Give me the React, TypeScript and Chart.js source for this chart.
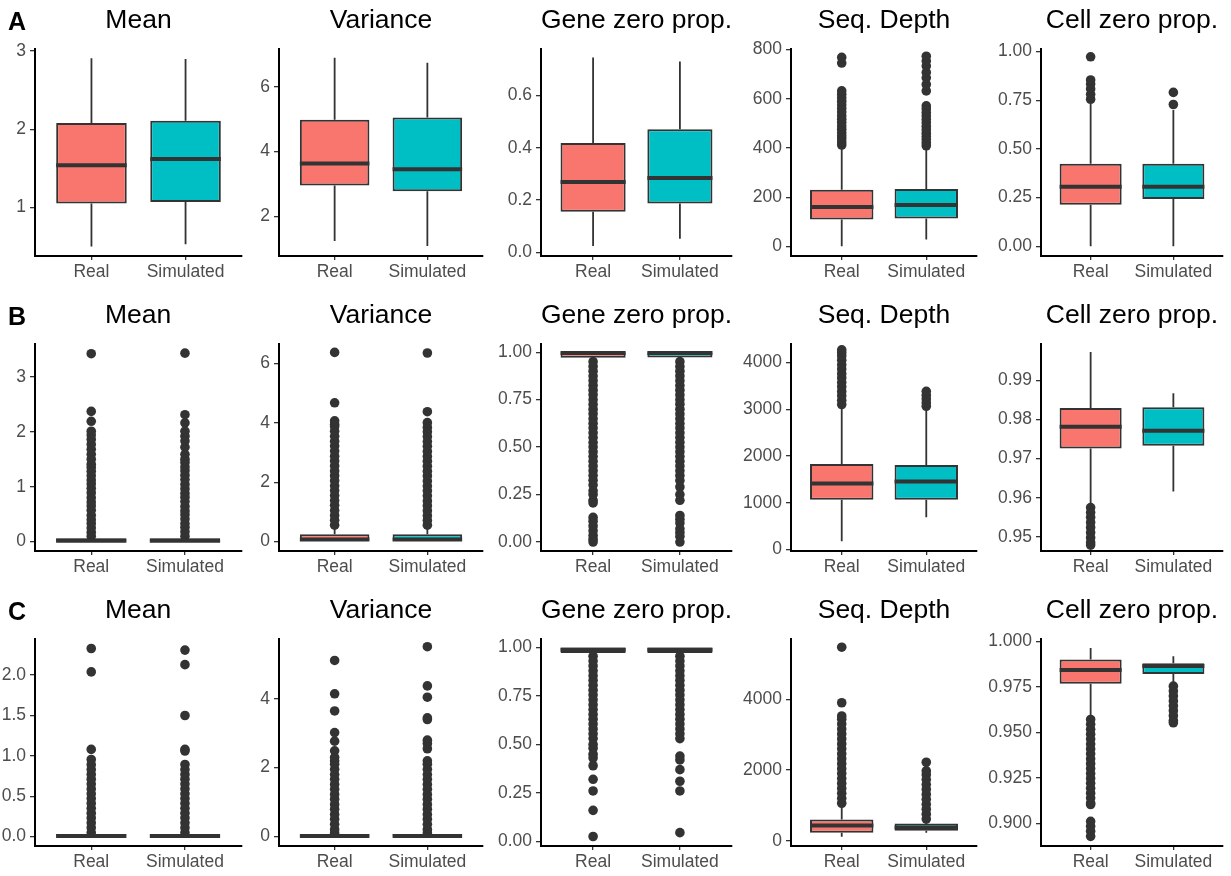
import React, { useEffect, useRef } from 'react';
import { Chart, registerables } from 'chart.js';

Chart.register(...registerables);

// ---------- data ----------
const CATEGORIES = ['Real', 'Simulated'];
const ROW_LETTERS = ['A', 'B', 'C'];
const PANEL_TITLES = ['Mean', 'Variance', 'Gene zero prop.', 'Seq. Depth', 'Cell zero prop.'];

// box summaries per category: [lower whisker, Q1, median, Q3, upper whisker]
const A_MEAN_BOX = [[0.50, 1.05, 1.54, 2.08, 2.91], [0.53, 1.07, 1.62, 2.11, 2.90]];
const A_VAR_BOX = [[1.23, 2.95, 3.63, 4.98, 6.89], [1.08, 2.77, 3.45, 5.05, 6.74]];
const A_GENE_BOX = [[0.024, 0.155, 0.269, 0.418, 0.746], [0.052, 0.187, 0.285, 0.471, 0.730]];
const A_DEPTH_BOX = [[1, 109, 160, 230, 400], [28, 113, 168, 233, 396]];
const A_CELL_BOX = [[0, 0.213, 0.305, 0.424, 0.731], [0, 0.243, 0.305, 0.424, 0.70]];
const B_MEAN_BOX = [[0, 0, 0.015, 0.06, 0.09], [0, 0, 0.015, 0.06, 0.09]];
const B_VAR_BOX = [[0, 0, 0.07, 0.245, 0.50], [0, 0, 0.07, 0.245, 0.50]];
const B_GENE_BOX = [[0.955, 0.971, 0.995, 0.999, 1.0], [0.955, 0.972, 0.995, 0.999, 1.0]];
const B_DEPTH_BOX = [[177, 1064, 1411, 1830, 3064], [688, 1064, 1454, 1809, 3028]];
const B_CELL_BOX = [[0.9585, 0.9726, 0.9781, 0.9829, 0.9972], [0.9616, 0.9733, 0.9771, 0.9831, 0.9867]];
const C_MEAN_BOX = [[0, 0, 0.008, 0.03, 0.045], [0, 0, 0.008, 0.03, 0.045]];
const C_VAR_BOX = [[0, 0, 0.01, 0.07, 0.09], [0, 0, 0.01, 0.07, 0.09]];
const C_GENE_BOX = [[0.962, 0.972, 0.988, 1.0, 1.0], [0.962, 0.972, 0.988, 1.0, 1.0]];
const C_DEPTH_BOX = [[113, 226, 433, 602, 1054], [226, 282, 376, 489, 565]];
const C_CELL_BOX = [[0.959, 0.97675, 0.98439, 0.99007, 0.9964], [0.97642, 0.98222, 0.9865, 0.98805, 0.99187]];

// outliers per category: [Real, Simulated]
const A_MEAN_OUT = [[], []];
const A_VAR_OUT = [[], []];
const A_GENE_OUT = [[], []];
const A_DEPTH_OUT = [
  [412, 424, 437, 449, 462, 476, 489, 503, 517, 531, 546, 560, 575, 590, 604, 618, 632, 745, 768],
  [409, 421, 434, 447, 460, 474, 488, 502, 516, 530, 544, 558, 571, 632, 658, 685, 707, 733, 753, 773],
];
const A_CELL_OUT = [[0.755, 0.78, 0.808, 0.833, 0.854, 0.973], [0.728, 0.79]];

const B_MEAN_OUT = [
  [0.10, 0.17, 0.25, 0.33, 0.40, 0.48, 0.57, 0.65, 0.72, 0.80, 0.89, 0.97, 1.05, 1.12, 1.20, 1.28, 1.35, 1.41, 1.50, 1.59, 1.68, 1.77, 1.86, 1.94, 2.01, 2.19, 2.37, 3.42],
  [0.10, 0.18, 0.26, 0.33, 0.41, 0.49, 0.56, 0.64, 0.73, 0.81, 0.88, 0.96, 1.04, 1.13, 1.21, 1.29, 1.36, 1.44, 1.50, 1.59, 1.72, 1.83, 1.92, 2.01, 2.16, 2.31, 3.43],
];
const B_VAR_OUT = [
  [0.55, 0.72, 0.88, 1.05, 1.22, 1.38, 1.55, 1.72, 1.88, 2.05, 2.22, 2.38, 2.55, 2.72, 2.88, 3.05, 3.22, 3.38, 3.55, 3.72, 3.88, 3.96, 4.07, 4.68, 6.38],
  [0.55, 0.71, 0.87, 1.04, 1.21, 1.37, 1.54, 1.71, 1.87, 2.04, 2.21, 2.37, 2.54, 2.71, 2.87, 3.04, 3.21, 3.37, 3.54, 3.70, 3.85, 4.01, 4.38, 6.36],
];
const B_GENE_OUT = [
  [0.95, 0.925, 0.90, 0.874, 0.85, 0.825, 0.80, 0.776, 0.75, 0.725, 0.70, 0.676, 0.65, 0.625, 0.60, 0.575, 0.55, 0.524, 0.50, 0.475, 0.45, 0.425, 0.40, 0.376, 0.35, 0.325, 0.30, 0.27, 0.25, 0.22, 0.206, 0.13, 0.11, 0.085, 0.06, 0.035, 0.015, 0.0],
  [0.95, 0.924, 0.90, 0.875, 0.85, 0.824, 0.80, 0.775, 0.75, 0.726, 0.70, 0.675, 0.65, 0.624, 0.60, 0.575, 0.55, 0.525, 0.50, 0.476, 0.45, 0.425, 0.40, 0.375, 0.35, 0.324, 0.29, 0.25, 0.22, 0.14, 0.12, 0.10, 0.07, 0.05, 0.03, 0.0],
];
const B_DEPTH_OUT = [
  [3100, 3190, 3290, 3380, 3480, 3570, 3670, 3760, 3860, 3950, 4050, 4140, 4210, 4270],
  [3064, 3140, 3220, 3300, 3383],
];
const B_CELL_OUT = [[0.9575, 0.9562, 0.955, 0.9537, 0.9524, 0.9511, 0.9498, 0.9486, 0.9479], []];

const C_MEAN_OUT = [
  [0.05, 0.11, 0.17, 0.23, 0.29, 0.35, 0.41, 0.47, 0.53, 0.59, 0.65, 0.71, 0.77, 0.83, 0.89, 0.955, 1.08, 2.04, 2.33],
  [0.05, 0.11, 0.17, 0.23, 0.29, 0.35, 0.41, 0.47, 0.53, 0.59, 0.65, 0.71, 0.77, 0.83, 0.893, 1.06, 1.08, 1.50, 2.13, 2.31],
];
const C_VAR_OUT = [
  [0.10, 0.20, 0.35, 0.50, 0.64, 0.79, 0.93, 1.08, 1.22, 1.37, 1.51, 1.66, 1.80, 1.95, 2.10, 2.20, 2.30, 2.49, 2.77, 3.02, 3.65, 4.15, 5.12],
  [0.10, 0.20, 0.35, 0.50, 0.64, 0.79, 0.93, 1.08, 1.22, 1.37, 1.51, 1.66, 1.80, 1.95, 2.10, 2.20, 2.55, 2.70, 2.80, 3.40, 3.45, 4.05, 4.38, 5.52],
];
const C_GENE_OUT = [
  [0.955, 0.93, 0.905, 0.88, 0.855, 0.83, 0.805, 0.78, 0.755, 0.73, 0.705, 0.68, 0.655, 0.63, 0.605, 0.58, 0.555, 0.53, 0.50, 0.48, 0.45, 0.43, 0.39, 0.32, 0.26, 0.16, 0.025],
  [0.955, 0.93, 0.905, 0.88, 0.855, 0.83, 0.805, 0.78, 0.755, 0.73, 0.705, 0.68, 0.655, 0.63, 0.605, 0.58, 0.555, 0.53, 0.44, 0.42, 0.37, 0.31, 0.26, 0.045],
];
const C_DEPTH_OUT = [
  [1060, 1200, 1340, 1480, 1620, 1760, 1900, 2040, 2180, 2320, 2460, 2600, 2740, 2880, 3020, 3160, 3300, 3440, 3530, 3905, 5477],
  [612, 750, 890, 1030, 1170, 1310, 1450, 1590, 1730, 1870, 1976, 2221],
];
const C_CELL_OUT = [
  [0.9572, 0.9545, 0.9518, 0.9491, 0.9464, 0.9437, 0.941, 0.9383, 0.9356, 0.9329, 0.9302, 0.9275, 0.9248, 0.9221, 0.9194, 0.9167, 0.914, 0.9113, 0.9105, 0.9012, 0.8985, 0.8958, 0.893],
  [0.9755, 0.9728, 0.9701, 0.9674, 0.9647, 0.962, 0.9593, 0.9566, 0.9554],
];

// y-axis tick labels
const A_MEAN_TICKS = ['1', '2', '3'];
const A_VAR_TICKS = ['2', '4', '6'];
const A_GENE_TICKS = ['0.0', '0.2', '0.4', '0.6'];
const A_DEPTH_TICKS = ['0', '200', '400', '600', '800'];
const A_CELL_TICKS = ['0.00', '0.25', '0.50', '0.75', '1.00'];
const B_MEAN_TICKS = ['0', '1', '2', '3'];
const B_VAR_TICKS = ['0', '2', '4', '6'];
const B_GENE_TICKS = ['0.00', '0.25', '0.50', '0.75', '1.00'];
const B_DEPTH_TICKS = ['0', '1000', '2000', '3000', '4000'];
const B_CELL_TICKS = ['0.95', '0.96', '0.97', '0.98', '0.99'];
const C_MEAN_TICKS = ['0.0', '0.5', '1.0', '1.5', '2.0'];
const C_VAR_TICKS = ['0', '2', '4'];
const C_GENE_TICKS = ['0.00', '0.25', '0.50', '0.75', '1.00'];
const C_DEPTH_TICKS = ['0', '2000', '4000'];
const C_CELL_TICKS = ['0.900', '0.925', '0.950', '0.975', '1.000'];

// y-axis limits [min, max]
const A_MEAN_Y = [0.38, 3.03];
const A_VAR_Y = [0.77, 7.17];
const A_GENE_Y = [-0.014, 0.779];
const A_DEPTH_Y = [-39, 803];
const A_CELL_Y = [-0.05, 1.014];
const B_MEAN_Y = [-0.17, 3.6];
const B_VAR_Y = [-0.32, 6.67];
const B_GENE_Y = [-0.047, 1.044];
const B_DEPTH_Y = [-33, 4400];
const B_CELL_Y = [0.9464, 0.9993];
const C_MEAN_Y = [-0.117, 2.45];
const C_VAR_Y = [-0.28, 5.75];
const C_GENE_Y = [-0.024, 1.045];
const C_DEPTH_Y = [-150, 5715];
const C_CELL_Y = [0.8877, 1.0015];

const PANELS = [
  [
    { box: A_MEAN_BOX, out: A_MEAN_OUT, ticks: A_MEAN_TICKS, y: A_MEAN_Y },
    { box: A_VAR_BOX, out: A_VAR_OUT, ticks: A_VAR_TICKS, y: A_VAR_Y },
    { box: A_GENE_BOX, out: A_GENE_OUT, ticks: A_GENE_TICKS, y: A_GENE_Y },
    { box: A_DEPTH_BOX, out: A_DEPTH_OUT, ticks: A_DEPTH_TICKS, y: A_DEPTH_Y },
    { box: A_CELL_BOX, out: A_CELL_OUT, ticks: A_CELL_TICKS, y: A_CELL_Y },
  ],
  [
    { box: B_MEAN_BOX, out: B_MEAN_OUT, ticks: B_MEAN_TICKS, y: B_MEAN_Y },
    { box: B_VAR_BOX, out: B_VAR_OUT, ticks: B_VAR_TICKS, y: B_VAR_Y },
    { box: B_GENE_BOX, out: B_GENE_OUT, ticks: B_GENE_TICKS, y: B_GENE_Y },
    { box: B_DEPTH_BOX, out: B_DEPTH_OUT, ticks: B_DEPTH_TICKS, y: B_DEPTH_Y },
    { box: B_CELL_BOX, out: B_CELL_OUT, ticks: B_CELL_TICKS, y: B_CELL_Y },
  ],
  [
    { box: C_MEAN_BOX, out: C_MEAN_OUT, ticks: C_MEAN_TICKS, y: C_MEAN_Y },
    { box: C_VAR_BOX, out: C_VAR_OUT, ticks: C_VAR_TICKS, y: C_VAR_Y },
    { box: C_GENE_BOX, out: C_GENE_OUT, ticks: C_GENE_TICKS, y: C_GENE_Y },
    { box: C_DEPTH_BOX, out: C_DEPTH_OUT, ticks: C_DEPTH_TICKS, y: C_DEPTH_Y },
    { box: C_CELL_BOX, out: C_CELL_OUT, ticks: C_CELL_TICKS, y: C_CELL_Y },
  ],
];

// ---------- layout / style ----------
const FONT = '"Liberation Sans", Arial, Helvetica, sans-serif';
const FILLS = ['#F8766D', '#00BFC4'];
const DARK = '#333333';
const COL_LEFT = [0, 246, 492, 738, 985];
const COL_W = 246;
const AXIS_W = [35, 33, 49, 53, 56];
const RIGHT_PAD = [4, 9, 6, 7, 8];
const ROW_TOP = [0, 295, 590];
const ROW_H = [295, 295, 286];
const PLOT_BOTTOM = 256;
const BOX_HALF = 0.375;

function Panel({ row, col }: { row: number; col: number }) {
  const ref = useRef<HTMLCanvasElement | null>(null);
  const panel = PANELS[row][col];
  const h = ROW_H[row];

  useEffect(() => {
    const canvas = ref.current;
    if (!canvas) return;
    const { box, out, ticks, y } = panel;

    const outlierData: { x: number; y: number }[] = [];
    out.forEach((vals: number[], i: number) => vals.forEach((v) => outlierData.push({ x: i + 1, y: v })));

    const boxPlugin = {
      id: 'boxParts',
      beforeDatasetsDraw(chart: any) {
        const { ctx } = chart;
        const xs = chart.scales.x;
        const ys = chart.scales.y;
        ctx.save();
        ctx.strokeStyle = DARK;
        ctx.lineWidth = 1.8;
        box.forEach((s: number[], i: number) => {
          const x = xs.getPixelForValue(i + 1);
          ctx.beginPath();
          ctx.moveTo(x, ys.getPixelForValue(s[0]));
          ctx.lineTo(x, ys.getPixelForValue(s[1]));
          ctx.moveTo(x, ys.getPixelForValue(s[3]));
          ctx.lineTo(x, ys.getPixelForValue(s[4]));
          ctx.stroke();
        });
        ctx.restore();
      },
      afterDatasetDraw(chart: any, args: any) {
        if (args.index !== 0) return;
        const { ctx } = chart;
        const xs = chart.scales.x;
        const ys = chart.scales.y;
        ctx.save();
        ctx.strokeStyle = DARK;
        ctx.lineWidth = 4;
        ctx.lineCap = 'butt';
        box.forEach((s: number[], i: number) => {
          const yy = ys.getPixelForValue(s[2]);
          ctx.beginPath();
          ctx.moveTo(xs.getPixelForValue(i + 1 - BOX_HALF), yy);
          ctx.lineTo(xs.getPixelForValue(i + 1 + BOX_HALF), yy);
          ctx.stroke();
        });
        ctx.restore();
      },
    };

    const chart = new Chart(canvas, {
      type: 'bar',
      data: {
        datasets: [
          {
            type: 'bar',
            data: box.map((s: number[], i: number) => ({ x: i + 1, y: [s[1], s[3]] })),
            backgroundColor: FILLS,
            borderColor: DARK,
            borderWidth: 2,
            borderSkipped: false,
            barPercentage: BOX_HALF * 2,
            categoryPercentage: 1,
            order: 0,
          } as any,
          {
            type: 'scatter',
            data: outlierData,
            pointRadius: 4.8,
            pointBackgroundColor: DARK,
            pointBorderWidth: 0,
            pointHoverRadius: 4.8,
            clip: false,
            order: 1,
          } as any,
        ],
      },
      options: {
        animation: false,
        responsive: false,
        devicePixelRatio: 1,
        events: [],
        layout: { padding: { left: 0, right: RIGHT_PAD[col], top: 0, bottom: 0 } },
        plugins: {
          legend: { display: false },
          tooltip: { enabled: false },
          title: {
            display: true,
            text: PANEL_TITLES[col],
            color: '#000000',
            fullSize: false,
            font: { family: FONT, size: 26.5, weight: 'normal' },
            padding: { top: 5, bottom: 12 },
          },
        },
        scales: {
          x: {
            type: 'linear',
            min: 0.4,
            max: 2.6,
            offset: false,
            afterBuildTicks: (s: any) => {
              s.ticks = CATEGORIES.map((_, i) => ({ value: i + 1 }));
            },
            afterFit: (s: any) => {
              s.height = h - PLOT_BOTTOM;
            },
            ticks: {
              autoSkip: false,
              maxRotation: 0,
              minRotation: 0,
              padding: 2,
              color: '#4D4D4D',
              font: { family: FONT, size: 17.5 },
              callback: (v: any) => CATEGORIES[Math.round(Number(v)) - 1] ?? '',
            },
            grid: {
              display: true,
              offset: false,
              drawOnChartArea: false,
              drawTicks: true,
              tickLength: 4,
              color: DARK,
              lineWidth: 1.3,
            },
            border: { display: true, color: '#000000', width: 2 },
          },
          y: {
            type: 'linear',
            min: y[0],
            max: y[1],
            bounds: 'data',
            afterBuildTicks: (s: any) => {
              s.ticks = ticks.map((t: string) => ({ value: parseFloat(t) }));
            },
            afterFit: (s: any) => {
              s.width = AXIS_W[col];
            },
            ticks: {
              autoSkip: false,
              padding: 4,
              color: '#4D4D4D',
              font: { family: FONT, size: 17.5 },
              callback: (v: any) => ticks.find((t: string) => Math.abs(parseFloat(t) - Number(v)) < 1e-9) ?? '',
            },
            grid: {
              display: true,
              drawOnChartArea: false,
              drawTicks: true,
              tickLength: 5,
              color: DARK,
              lineWidth: 1.3,
            },
            border: { display: true, color: '#000000', width: 2 },
          },
        },
      } as any,
      plugins: [boxPlugin],
    });

    return () => chart.destroy();
  }, [row, col]);

  return (
    <canvas
      ref={ref}
      width={COL_W}
      height={h}
      style={{ position: 'absolute', left: COL_LEFT[col], top: ROW_TOP[row], width: COL_W, height: h }}
    />
  );
}

export default function App() {
  return (
    <div
      style={{
        position: 'absolute',
        left: 0,
        top: 0,
        width: 1231,
        height: 876,
        background: '#ffffff',
        overflow: 'hidden',
      }}
    >
      {PANELS.map((rowPanels, r) =>
        rowPanels.map((_, c) => <Panel key={`${r}-${c}`} row={r} col={c} />)
      )}
      {ROW_LETTERS.map((letter, r) => (
        <div
          key={letter}
          style={{
            position: 'absolute',
            left: 8,
            top: ROW_TOP[r] + 8.5,
            fontFamily: FONT,
            fontWeight: 'bold',
            fontSize: 25,
            lineHeight: '25px',
            color: '#000000',
          }}
        >
          {letter}
        </div>
      ))}
    </div>
  );
}
